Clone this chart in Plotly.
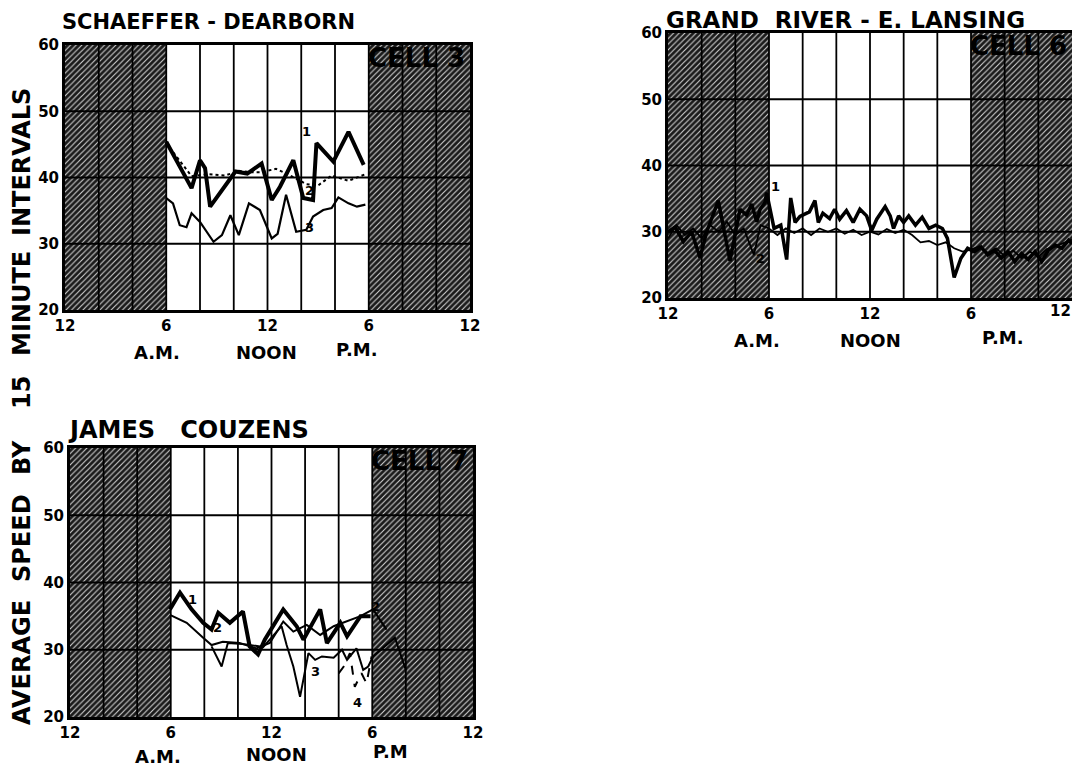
import plotly.graph_objects as go

W, H = 1080, 768
OFF = 8  # page body margin in the browser; pixel positions below are screen positions
FONT = "DejaVu Sans"

# ---------------- shared axis data ----------------
hour_ticks = [0, 6, 12, 18, 24]
hour_labels = ["12", "6", "12", "6", "12"]
speed_ticks = [20, 30, 40, 50, 60]
night_spans = [(0, 6), (18, 24)]
grid_hours = [2, 4, 6, 8, 10, 12, 14, 16, 18, 20, 22]
grid_speeds = [30, 40, 50]

# ---------------- Cell 3 : Schaeffer - Dearborn ----------------
c3_s1_x = [6.0, 7.5, 8.0, 8.3, 8.6, 10.1, 10.8, 11.65, 12.25, 12.74, 13.53, 14.12, 14.7, 14.9, 15.9, 16.8, 17.7]
c3_s1_y = [45.4, 38.4, 42.6, 41.4, 35.6, 40.9, 40.6, 42.1, 36.6, 38.6, 42.6, 36.9, 36.6, 45.2, 42.4, 46.9, 41.9]
c3_s2_x = [6.2, 7.5, 8.5, 9.5, 10.3, 11.0, 11.6, 12.5, 13.2, 14.3, 15.0, 15.8, 16.8, 17.8]
c3_s2_y = [44.5, 40.2, 40.5, 40.3, 41.0, 40.8, 40.8, 41.3, 40.5, 39.0, 38.8, 40.3, 39.5, 40.5]
c3_s3_x = [6.0, 6.4, 6.8, 7.2, 7.5, 8.0, 8.8, 9.3, 9.8, 10.3, 10.9, 11.55, 12.25, 12.6, 13.1, 13.7, 14.3, 14.7, 15.3, 15.8, 16.2, 16.8, 17.3, 17.8]
c3_s3_y = [36.9, 36.1, 32.8, 32.5, 34.6, 33.3, 30.3, 31.3, 34.3, 31.3, 36.1, 35.1, 30.8, 31.5, 37.4, 31.8, 32.1, 34.1, 35.1, 35.4, 37.0, 36.1, 35.6, 35.9]

# ---------------- Cell 6 : Grand River - E. Lansing ----------------
c6_s1_x = [0.0, 0.42, 0.91, 1.4, 1.9, 2.3, 2.99, 3.68, 4.28, 4.67, 4.97, 5.27, 5.47, 5.76, 5.86,
           6.3, 6.7, 7.05, 7.29, 7.55, 7.84, 8.4, 8.73, 8.93, 9.2, 9.6, 9.9, 10.2, 10.6, 11.0, 11.4,
           11.8, 12.1, 12.4, 12.9, 13.2, 13.4, 13.7, 14.0, 14.3, 14.7, 15.1, 15.5, 15.9, 16.3, 16.6,
           17.0, 17.4, 17.8, 18.2, 18.6, 19.0, 19.4, 19.8, 20.2, 20.6, 21.0, 21.4, 21.8, 22.2, 22.6,
           23.0, 23.4, 23.8, 24.0]
c6_s1_y = [30.0, 30.7, 28.5, 30.0, 26.1, 30.0, 34.7, 25.6, 33.4, 32.5, 34.2, 31.5, 33.4, 34.4, 35.9,
           30.5, 31.0, 25.8, 35.1, 31.4, 32.3, 33.0, 34.7, 31.4, 32.8, 32.0, 33.4, 31.9, 33.2, 31.4, 33.4,
           32.4, 30.2, 31.9, 33.8, 32.4, 30.5, 32.4, 31.4, 32.4, 31.0, 32.2, 30.5, 31.0, 30.5, 29.0,
           23.1, 26.0, 27.5, 27.0, 27.7, 26.5, 27.2, 26.0, 27.0, 25.5, 26.7, 25.8, 27.0, 25.5, 27.2,
           28.0, 27.5, 28.7, 28.2]
c6_s2_x = [0.0, 0.5, 1.0, 1.5, 2.0, 2.5, 3.0, 3.5, 4.0, 4.5, 5.1, 5.5, 6.0, 6.5, 7.0, 7.5, 8.0, 8.5,
           9.0, 9.5, 10.0, 10.5, 11.0, 11.5, 12.0, 12.5, 13.0, 13.5, 14.0, 14.5, 15.0, 15.5, 16.0, 16.5,
           17.0, 17.5, 18.0, 18.5, 19.0, 19.5, 20.0, 20.5, 21.0, 21.5, 22.0, 22.5, 23.0, 23.5, 24.0]
c6_s2_y = [29.0, 31.0, 29.5, 30.5, 29.0, 31.0, 30.0, 31.5, 29.5, 30.5, 26.5, 31.0, 30.5, 29.5, 30.5, 29.8, 30.5, 29.5,
           30.5, 30.0, 30.5, 29.7, 30.3, 29.5, 30.0, 29.6, 30.4, 29.8, 30.3, 29.5, 28.4, 28.6, 28.0, 28.4,
           27.5, 27.0, 27.3, 27.8, 26.8, 27.5, 26.3, 27.2, 26.0, 27.0, 26.2, 27.4, 27.8, 28.3, 28.8]

# ---------------- Cell 7 : James Couzens ----------------
c7_s1_x = [5.95, 6.55, 7.24, 7.93, 8.43, 8.83, 9.52, 10.3, 10.7, 11.2, 11.6, 12.1, 12.7, 13.5, 13.9, 14.9, 15.3, 16.1, 16.5, 17.3, 17.9]
c7_s1_y = [36.0, 38.5, 36.0, 34.0, 33.0, 35.5, 34.0, 35.7, 30.5, 29.3, 31.5, 33.5, 36.0, 33.5, 31.5, 36.0, 31.0, 34.0, 32.0, 35.0, 35.0]
c7_s2_x = [5.95, 6.95, 7.93, 8.43, 9.1, 10.1, 11.1, 11.9, 12.7, 13.3, 14.1, 14.9, 15.7, 16.5, 17.3, 18.05, 18.85]
c7_s2_y = [35.2, 34.0, 31.8, 30.7, 31.2, 31.0, 30.2, 31.0, 34.2, 32.7, 33.7, 32.2, 33.5, 34.2, 35.0, 36.0, 33.0]
c7_s3_x = [8.43, 9.03, 9.4, 10.5, 11.5, 12.6, 12.9, 13.3, 13.7, 14.2, 14.6, 15.0, 15.7, 16.2, 16.5, 17.06, 17.46, 17.76, 18.05, 19.35, 20.0]
c7_s3_y = [30.5, 27.5, 31.0, 30.8, 30.4, 33.5, 30.7, 27.5, 23.0, 29.5, 28.5, 29.0, 28.8, 30.0, 28.5, 30.2, 27.0, 27.5, 29.0, 31.8, 27.0]
c7_s4_x = [16.0, 16.3, 16.67, 16.96, 17.36, 17.66, 17.96]
c7_s4_y = [26.5, 27.5, 29.5, 24.5, 26.5, 25.0, 29.0]

# series labels drawn on the charts
c3_labels = [("1", 14.3, 46.9), ("2", 14.5, 38.1), ("3", 14.5, 32.5)]
c6_labels = [("1", 6.36, 36.9), ("2", 5.47, 26.0)]
c7_labels = [("1", 7.3, 37.5), ("2", 8.8, 33.3), ("3", 14.6, 26.7), ("4", 17.1, 22.2), ("2", 18.2, 36.4)]

panels = [
    dict(title="SCHAEFFER - DEARBORN", cell="CELL 3", box=(65, 470, 45, 310),
         title_pos=(60, 22), title_size=21, edge_label=False,
         ampm=[("A.M.", 157, 352), ("NOON", 266, 352), ("P.M.", 356, 349)],
         series=[(c3_s1_x, c3_s1_y, 4, "solid"), (c3_s2_x, c3_s2_y, 2, "dot"), (c3_s3_x, c3_s3_y, 2.2, "solid")],
         labels=c3_labels),
    dict(title="GRAND\u00a0 RIVER - E. LANSING", cell="CELL 6", box=(668, 1072, 33, 298),
         title_pos=(664, 20), title_size=23, edge_label=True,
         ampm=[("A.M.", 757, 340), ("NOON", 870, 340), ("P.M.", 1002, 337)],
         series=[(c6_s2_x, c6_s2_y, 1.8, "solid"), (c6_s1_x, c6_s1_y, 3.5, "solid")],
         labels=c6_labels),
    dict(title="JAMES\u00a0\u00a0 COUZENS", cell="CELL 7", box=(70, 473, 448, 717),
         title_pos=(66, 430), title_size=24, edge_label=False,
         ampm=[("A.M.", 158, 756), ("NOON", 276, 754), ("P.M", 390, 751)],
         series=[(c7_s1_x, c7_s1_y, 4, "solid"), (c7_s2_x, c7_s2_y, 2, "solid"),
                 (c7_s3_x, c7_s3_y, 2, "solid"), (c7_s4_x, c7_s4_y, 2, "dash")],
         labels=c7_labels),
]


def fx(px):
    return (px - OFF) / W


def fy(py):
    return 1 - (py - OFF) / H


fig = go.Figure()
layout = dict(width=W, height=H, margin=dict(l=0, r=0, t=0, b=0, pad=0, autoexpand=False),
              paper_bgcolor="white", plot_bgcolor="white", showlegend=False,
              font=dict(family=FONT, color="black", weight="bold"))
annotations = []


def note(text, x, y, xref, yref, size, xanchor="center", yanchor="middle", angle=0):
    return dict(text=text, x=x, y=y, xref=xref, yref=yref, xanchor=xanchor, yanchor=yanchor,
                textangle=angle, showarrow=False,
                font=dict(family=FONT, size=size, weight="bold", color="black"))


for i, p in enumerate(panels, start=1):
    sfx = "" if i == 1 else str(i)
    xa, ya = "x" + sfx, "y" + sfx
    x0, x1, y0, y1 = p["box"]
    ticktext = list(hour_labels)
    if p["edge_label"]:
        # last label sits at the window edge: draw it just inside the corner instead
        ticktext[-1] = ""
        annotations.append(dict(text=hour_labels[-1], x=hour_ticks[-1], y=fy(y1 + 13), xref=xa, yref="paper",
                                xanchor="right", yanchor="middle", xshift=1, showarrow=False,
                                font=dict(family=FONT, size=15, weight="bold", color="black")))
    layout["xaxis" + sfx] = dict(domain=[fx(x0), fx(x1)], anchor=ya, range=[0, 24], automargin=False,
                                 tickvals=hour_ticks, ticktext=ticktext, showgrid=False, zeroline=False,
                                 showline=True, mirror=True, linecolor="black", linewidth=3, ticks="",
                                 tickfont=dict(family=FONT, size=15, weight="bold"), fixedrange=True)
    layout["yaxis" + sfx] = dict(domain=[fy(y1), fy(y0)], anchor=xa, range=[20, 60], automargin=False,
                                 tickvals=speed_ticks, ticktext=[str(v) for v in speed_ticks],
                                 showgrid=False, zeroline=False, showline=True, mirror=True,
                                 linecolor="black", linewidth=3, ticks="",
                                 tickfont=dict(family=FONT, size=15, weight="bold"), fixedrange=True)
    # hatched night shading
    hx, hy = [], []
    for a, b in night_spans:
        hx += [a, b, b, a, a, None]
        hy += [20, 20, 60, 60, 20, None]
    fig.add_trace(go.Scatter(x=hx, y=hy, xaxis=xa, yaxis=ya, mode="lines", fill="toself",
                             line=dict(width=0), fillcolor="#1a1a1a", hoverinfo="skip",
                             fillpattern=dict(shape="/", bgcolor="#1a1a1a", fgcolor="#d0d0d0",
                                              size=4, solidity=0.28, fillmode="replace")))
    # grid
    gx, gy = [], []
    for hgt in grid_hours:
        gx += [hgt, hgt, None]
        gy += [20, 60, None]
    for s in grid_speeds:
        gx += [0, 24, None]
        gy += [s, s, None]
    fig.add_trace(go.Scatter(x=gx, y=gy, xaxis=xa, yaxis=ya, mode="lines",
                             line=dict(color="black", width=1.8), hoverinfo="skip"))
    # data series
    for sx, sy, w, dash in p["series"]:
        fig.add_trace(go.Scatter(x=sx, y=sy, xaxis=xa, yaxis=ya, mode="lines",
                                 line=dict(color="black", width=w, dash=dash)))
    for txt, lx, ly in p["labels"]:
        annotations.append(note(txt, lx, ly, xa, ya, 13))
    annotations.append(note(p["cell"], 23.8, 58.0, xa, ya, 26, xanchor="right"))
    tx, ty = p["title_pos"]
    annotations.append(note(p["title"], fx(tx), fy(ty), "paper", "paper", p["title_size"], xanchor="left"))
    for txt, ax_, ay_ in p["ampm"]:
        annotations.append(note(txt, fx(ax_), fy(ay_), "paper", "paper", 18))

# vertical axis caption, word by word
ylabel_words = [("INTERVALS", 162), ("MINUTE", 304), ("15", 393), ("BY", 458), ("SPEED", 538), ("AVERAGE", 663)]
for word, cy in ylabel_words:
    annotations.append(note(word, fx(22), fy(cy), "paper", "paper", 24, angle=-90))

layout["annotations"] = annotations
fig.update_layout(**layout)
fig.write_html("out.html")
